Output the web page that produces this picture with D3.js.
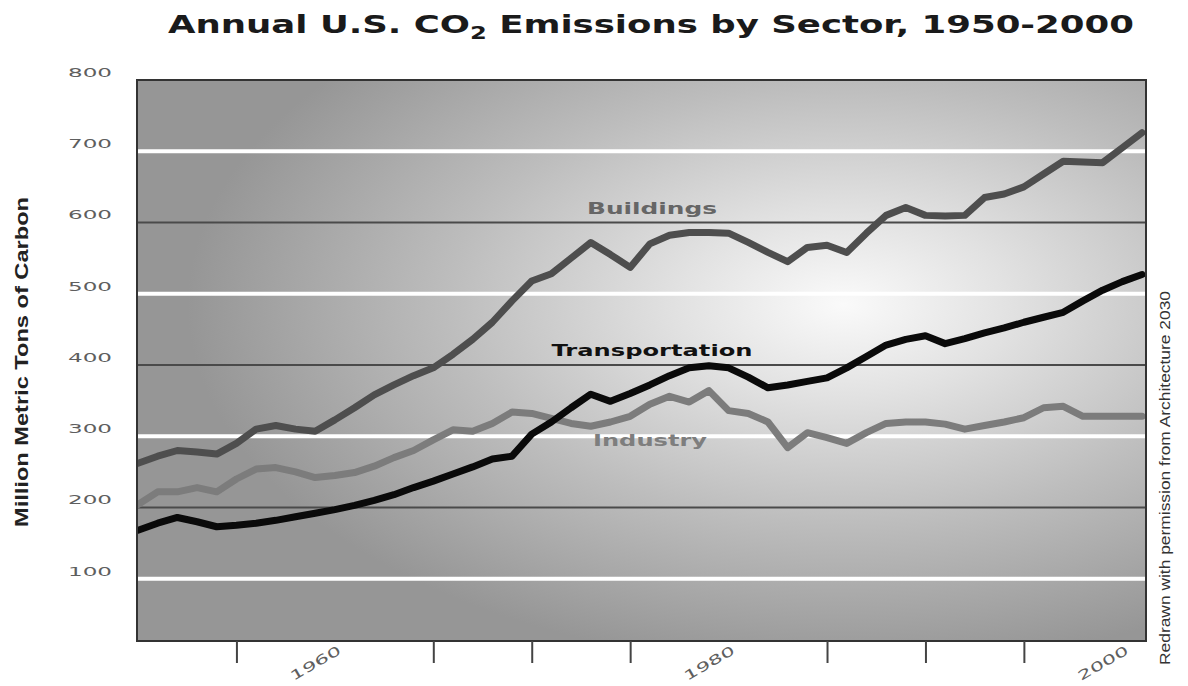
<!DOCTYPE html>
<html>
<head>
<meta charset="utf-8">
<script src="https://cdn.jsdelivr.net/npm/d3@7"></script>
<style>
  body { margin: 0; background: #fff; }
  svg { display: block; }
</style>
</head>
<body>
<div class="chart"></div>
<script>
// years 1950-2001, values in million metric tons of carbon
var years = d3.range(1950, 2002);

var buildings = [262, 272, 280, 278, 275, 290, 310, 315, 310, 307,
  323, 340, 358, 372, 385, 396, 415, 436, 460, 490,
  518, 528, 550, 572, 555, 537, 570, 582, 586, 586,
  585, 572, 558, 545, 565, 568, 558, 585, 610, 621,
  610, 609, 610, 635, 640, 650, 668, 686, 685, 684,
  705, 726];

var transportation = [168, 178, 186, 180, 173, 175, 178, 182, 187, 192,
  197, 203, 210, 218, 228, 237, 247, 257, 268, 272,
  303, 320, 340, 359, 349, 360, 372, 385, 396, 399,
  396, 383, 368, 372, 377, 382, 396, 412, 428, 436,
  441, 430, 437, 445, 452, 460, 467, 474, 490, 505,
  517, 527];

var industry = [204, 222, 222, 228, 222, 240, 254, 256, 250, 242,
  245, 249, 258, 270, 280, 295, 309, 307, 318, 334,
  332, 325, 318, 314, 320, 328, 345, 356, 348, 364,
  336, 332, 320, 284, 305, 298, 290, 305, 318, 320,
  320, 317, 310, 315, 320, 326, 340, 342, 328, 328,
  328, 328];

var yTicks = [100, 200, 300, 400, 500, 600, 700, 800];
var whiteGrid = [100, 300, 500, 700];
var darkGrid = [200, 400, 600];
var xTickYears = [1955, 1965, 1970, 1975, 1985, 1990, 1995];
var xLabelYears = [1960, 1980, 2000];

var width = 1188, height = 686;
var plot = { left: 137, right: 1146, top: 80, bottom: 641 };

var svg = d3.select(".chart").append("svg")
  .attr("width", width)
  .attr("height", height);

var x = d3.scaleLinear().domain([1950, 2001]).range([138, 1142]);
var y = d3.scaleLinear().domain([0, 800]).range([650, 80]);

// background glow
var defs = svg.append("defs");
var grad = defs.append("radialGradient")
  .attr("id", "glow")
  .attr("cx", 0.7).attr("cy", 0.4).attr("r", 0.65);
[[0, "#fafafa"], [0.25, "#e2e2e2"], [0.6, "#bdbdbd"], [1, "#969696"]].forEach(function (s) {
  grad.append("stop").attr("offset", s[0]).attr("stop-color", s[1]);
});
defs.append("clipPath").attr("id", "clip")
  .append("rect")
  .attr("x", plot.left).attr("y", plot.top)
  .attr("width", plot.right - plot.left).attr("height", plot.bottom - plot.top);

svg.append("rect")
  .attr("x", plot.left).attr("y", plot.top)
  .attr("width", plot.right - plot.left).attr("height", plot.bottom - plot.top)
  .attr("fill", "url(#glow)");

//gridlines
svg.selectAll(".gw").data(whiteGrid).enter().append("line")
  .attr("x1", plot.left).attr("x2", plot.right)
  .attr("y1", (d) => y(d)).attr("y2", (d) => y(d))
  .attr("stroke", "#ffffff").attr("stroke-width", 4);

svg.selectAll(".gd").data(darkGrid).enter().append("line")
  .attr("x1", plot.left).attr("x2", plot.right)
  .attr("y1", (d) => y(d)).attr("y2", (d) => y(d))
  .attr("stroke", "#4a4a4a").attr("stroke-width", 2);

// series lines
var line = d3.line()
  .x((d, i) => x(years[i]))
  .y((d) => y(d));

var series = [
  { values: buildings, color: "#4e4e4e" },
  { values: industry, color: "#7c7c7c" },
  { values: transportation, color: "#0a0a0a" }
];

svg.append("g").attr("clip-path", "url(#clip)")
  .selectAll("path")
  .data(series)
  .enter()
  .append("path")
  .attr("d", (d) => line(d.values))
  .attr("fill", "none")
  .attr("stroke", (d) => d.color)
  .attr("stroke-width", 7)
  .attr("stroke-linejoin", "round")
  .attr("stroke-linecap", "round");

// frame
svg.append("rect")
  .attr("x", plot.left).attr("y", plot.top)
  .attr("width", plot.right - plot.left).attr("height", plot.bottom - plot.top)
  .attr("fill", "none").attr("stroke", "#333").attr("stroke-width", 2);

// y axis labels
var yAxis = svg.append("g")
  .attr("transform", "translate(" + plot.left + ",0)")
  .call(d3.axisLeft(y).tickValues(yTicks).tickSize(0).tickPadding(25));
yAxis.select(".domain").remove();
yAxis.selectAll("text")
  .attr("dy", "-0.3em")
  .attr("fill", "#5e5e5e")
  .style("font-family", "DejaVu Sans")
  .style("font-size", "12px")
  .attr("textLength", 44)
  .attr("lengthAdjust", "spacingAndGlyphs");

// x axis ticks
var xAxis = svg.append("g")
  .attr("transform", "translate(0," + plot.bottom + ")")
  .call(d3.axisBottom(x).tickValues(xTickYears).tickSize(22).tickFormat(""));
xAxis.select(".domain").remove();
xAxis.selectAll("line").attr("stroke", "#444").attr("stroke-width", 2);

svg.selectAll(".xl").data(xLabelYears).enter().append("text")
  .attr("transform", (d) => "translate(" + (x(d) - 17) + ",667) rotate(-30)")
  .attr("text-anchor", "middle")
  .attr("fill", "#5e5e5e")
  .style("font-family", "DejaVu Sans")
  .style("font-size", "13px")
  .attr("textLength", 56)
  .attr("lengthAdjust", "spacingAndGlyphs")
  .text((d) => d);

// title
var title = svg.append("text")
  .attr("x", 651).attr("y", 33)
  .attr("text-anchor", "middle")
  .attr("fill", "#1a1a1a")
  .style("font-family", "DejaVu Sans")
  .style("font-weight", "bold")
  .style("font-size", "25px")
  .attr("textLength", 966)
  .attr("lengthAdjust", "spacingAndGlyphs");
title.append("tspan").text("Annual U.S. CO");
title.append("tspan").attr("dy", 6).style("font-size", "17px").text("2");
title.append("tspan").attr("dy", -6).text(" Emissions by Sector, 1950-2000");

// y title
svg.append("text")
  .attr("transform", "translate(28,362) rotate(-90)")
  .attr("text-anchor", "middle")
  .attr("fill", "#222")
  .style("font-family", "Liberation Sans, Arial, sans-serif")
  .style("font-weight", "bold")
  .style("font-size", "18px")
  .attr("textLength", 330)
  .attr("lengthAdjust", "spacingAndGlyphs")
  .text("Million Metric Tons of Carbon");

// credit
svg.append("text")
  .attr("transform", "translate(1170,478) rotate(-90)")
  .attr("text-anchor", "middle")
  .attr("fill", "#333")
  .style("font-family", "Liberation Sans, Arial, sans-serif")
  .style("font-size", "15px")
  .attr("textLength", 374)
  .attr("lengthAdjust", "spacingAndGlyphs")
  .text("Redrawn with permission from Architecture 2030");

// series labels
var labels = [
  { text: "Buildings", x: 652, y: 214, width: 130, color: "#666", weight: "bold" },
  { text: "Transportation", x: 652, y: 356, width: 201, color: "#111", weight: "bold" },
  { text: "Industry", x: 650, y: 446, width: 114, color: "#7e7e7e", weight: "bold" }
];
svg.selectAll(".lab").data(labels).enter().append("text")
  .attr("x", (d) => d.x).attr("y", (d) => d.y)
  .attr("text-anchor", "middle")
  .attr("fill", (d) => d.color)
  .style("font-family", "DejaVu Sans")
  .style("font-weight", (d) => d.weight)
  .style("font-size", "15px")
  .attr("textLength", (d) => d.width)
  .attr("lengthAdjust", "spacingAndGlyphs")
  .text((d) => d.text);
</script>
</body>
</html>
